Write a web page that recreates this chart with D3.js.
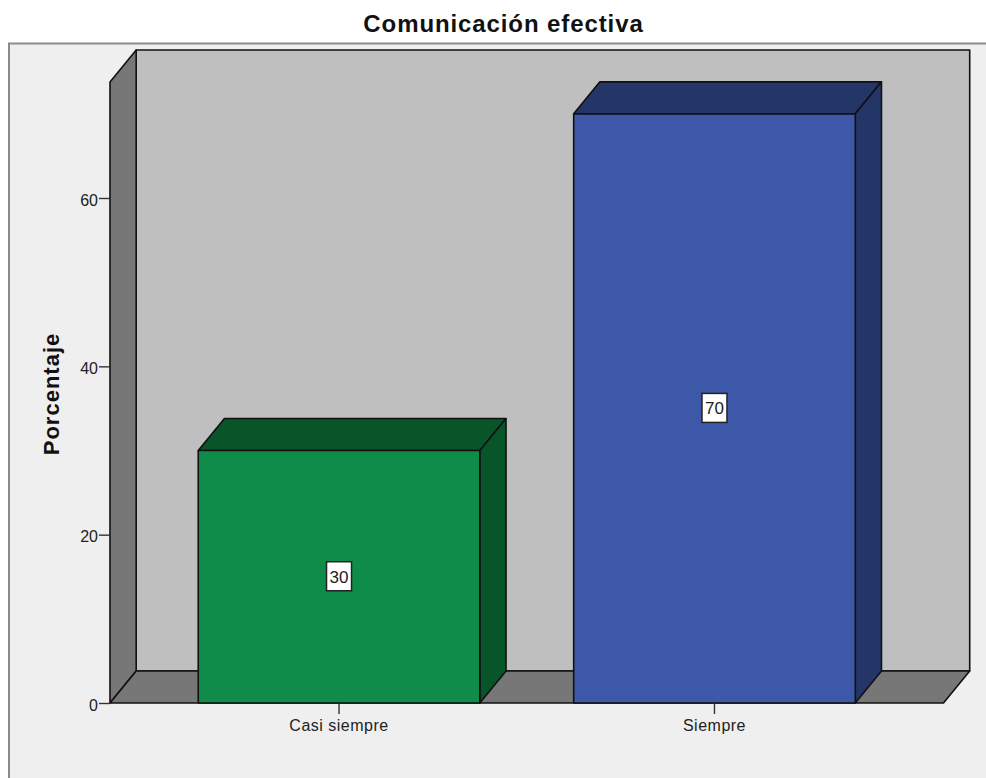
<!DOCTYPE html>
<html>
<head>
    <meta charset="utf-8">
    <title>Comunicación efectiva</title>
    <script src="https://d3js.org/d3.v7.min.js"></script>
    <style>
        body { margin: 0; background: #fff; }
        svg { display: block; }
        text { font-family: "Liberation Sans", Arial, sans-serif; fill: #222; }
        .title { font-size: 24px; font-weight: bold; letter-spacing: 0.9px; fill: #111; }
        .ytitle { font-size: 22px; font-weight: bold; letter-spacing: 1px; fill: #111; }
        .tick text { font-size: 16px; }
        .x-axis .tick text { letter-spacing: 0.5px; }
    </style>
</head>
<body>
<div id="chart"></div>
<script>
const chartTitle = "Comunicación efectiva";
const yTitle = "Porcentaje";
const categories = ["Casi siempre", "Siempre"];
const percentages = [30, 70];
const yTicks = [0, 20, 40, 60];
const frontColors = ["#0f8c4a", "#3e58a9"];
const sideColors = ["#085529", "#243568"];

const width = 986, height = 778;
// oblique offset of the 3d box, towards the back wall
const depthX = 26.2, depthY = -32;

const svg = d3.select("#chart").append("svg")
    .attr("width", width)
    .attr("height", height);

const x = d3.scaleBand()
    .domain(categories)
    .range([110, 943.5])
    .paddingInner(0.25)
    .paddingOuter(0.235);

const y = d3.scaleLinear()
    .domain([0, 60])
    .range([703, 198]);

const line = d3.line();
const edge = "#111";

// outer frame, runs off the right and bottom edges
svg.append("rect")
    .attr("x", 9).attr("y", 43.5)
    .attr("width", width).attr("height", height)
    .attr("fill", "#efefef")
    .attr("stroke", "#8a8a8a")
    .attr("stroke-width", 2);

svg.append("text")
    .attr("class", "title")
    .attr("x", 503.5).attr("y", 32)
    .attr("text-anchor", "middle")
    .text(chartTitle);

// plot box: back wall, left wall, floor
const x0 = x.range()[0], x1 = x.range()[1];
const yBase = y(0), yTop = 82;

function face(points, fill) {
    svg.append("path")
        .attr("d", line(points) + "Z")
        .attr("fill", fill)
        .attr("stroke", edge)
        .attr("stroke-width", 1.6)
        .attr("stroke-linejoin", "round");
}

face([[x0 + depthX, yTop + depthY], [x1 + depthX, yTop + depthY], [x1 + depthX, yBase + depthY], [x0 + depthX, yBase + depthY]], "#bfbfbf");
face([[x0, yTop], [x0 + depthX, yTop + depthY], [x0 + depthX, yBase + depthY], [x0, yBase]], "#777777");
face([[x0, yBase], [x0 + depthX, yBase + depthY], [x1 + depthX, yBase + depthY], [x1, yBase]], "#777777");

// bars
categories.forEach((cat, i) => {
    const left = x(cat), right = left + x.bandwidth();
    const top = y(percentages[i]);
    face([[left, top], [left + depthX, top + depthY], [right + depthX, top + depthY], [right, top]], sideColors[i]);
    face([[right, top], [right + depthX, top + depthY], [right + depthX, yBase + depthY], [right, yBase]], sideColors[i]);
    face([[left, top], [right, top], [right, yBase], [left, yBase]], frontColors[i]);
});

// value labels at mid height of each bar
const labels = svg.selectAll(".value")
    .data(percentages)
    .enter().append("g")
    .attr("class", "value")
    .attr("transform", (d, i) => `translate(${x(categories[i]) + x.bandwidth() / 2},${y(d / 2)})`);

labels.append("rect")
    .attr("x", -12.5).attr("y", -15)
    .attr("width", 25).attr("height", 29)
    .attr("fill", "#fff")
    .attr("stroke", "#222")
    .attr("stroke-width", 1.5);

labels.append("text")
    .attr("text-anchor", "middle")
    .attr("y", 6)
    .style("font-size", "17px")
    .text(d => d);

// axes
const yAxis = d3.axisLeft(y).tickValues(yTicks).tickSize(11).tickSizeOuter(0);
svg.append("g")
    .attr("transform", `translate(${x0},0)`)
    .call(yAxis)
    .call(g => g.select(".domain").remove())
    .call(g => g.selectAll(".tick line").attr("stroke", "#333").attr("stroke-width", 1.4))
    .call(g => g.selectAll(".tick text").attr("x", -12).attr("y", 7).attr("dy", 0));

const xAxis = d3.axisBottom(x).tickSize(11).tickSizeOuter(0);
svg.append("g")
    .attr("class", "x-axis")
    .attr("transform", `translate(0,${yBase})`)
    .call(xAxis)
    .call(g => g.select(".domain").remove())
    .call(g => g.selectAll(".tick line").attr("stroke", "#333").attr("stroke-width", 1.4))
    .call(g => g.selectAll(".tick text").attr("y", 27.5).attr("dy", 0));

svg.append("text")
    .attr("class", "ytitle")
    .attr("transform", "translate(59,394) rotate(-90)")
    .attr("text-anchor", "middle")
    .text(yTitle);
</script>
</body>
</html>
